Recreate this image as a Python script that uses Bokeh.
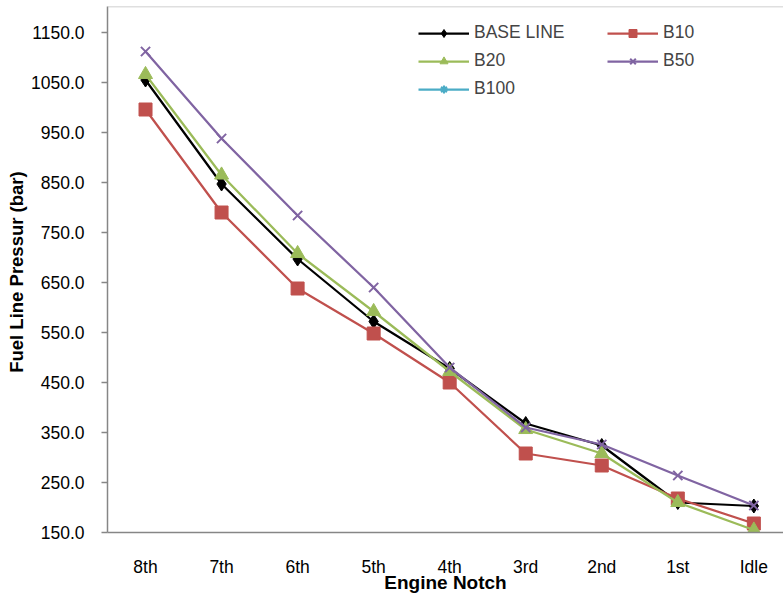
from bokeh.plotting import figure
from bokeh.models import Range1d, FixedTicker, NumeralTickFormatter, Legend, LegendItem, Span
from bokeh.embed import file_html
from bokeh.resources import INLINE

notches = ["8th", "7th", "6th", "5th", "4th", "3rd", "2nd", "1st", "Idle"]
base_line = [1055, 847, 697, 572, 478, 368, 324, 210, 203]
b10 = [996, 790, 638, 548, 450, 308, 284, 218, 168]
b20 = [1066, 865, 708, 592, 472, 356, 308, 210, 155]
b50 = [1112, 938, 784, 640, 480, 360, 326, 264, 204]
b100 = [None, None, None, None, None, None, None, None, None]  # no values plotted
y_ticks = [150, 250, 350, 450, 550, 650, 750, 850, 950, 1050, 1150]

xs = list(range(len(notches)))
Y_TOP = 1202

p = figure(width=783, height=599, output_backend="svg", toolbar_location=None,
           x_range=Range1d(-0.5, 8.39), y_range=Range1d(150, Y_TOP),
           min_border_left=107, min_border_bottom=67, min_border_top=6, min_border_right=0)
p.outline_line_color = None
p.xgrid.visible = False
p.ygrid.visible = False
p.background_fill_color = "white"
p.border_fill_color = "white"
p.add_layout(Span(location=Y_TOP, dimension="width", line_color="#BFBFBF", line_width=1.5))

font = "Liberation Sans"
for ax in (p.xaxis[0], p.yaxis[0]):
    ax.axis_line_color = "#868686"
    ax.axis_line_width = 1.5
    ax.major_tick_line_color = "#868686"
    ax.major_tick_line_width = 1.5
    ax.minor_tick_line_color = None
    ax.major_label_text_font = font
    ax.major_label_text_font_size = "17.5px"
    ax.major_label_text_color = "black"
    ax.axis_label_text_font = font
    ax.axis_label_text_font_style = "bold"
    ax.axis_label_text_color = "black"

p.xaxis.ticker = FixedTicker(ticks=xs)
p.xaxis.major_label_overrides = {i: n for i, n in enumerate(notches)}
p.xaxis.major_tick_out = 0
p.xaxis.major_tick_in = 0
p.xaxis.major_label_standoff = 24
p.xaxis.axis_label = "Engine Notch"
p.xaxis.axis_label_text_font_size = "19px"
p.xaxis.axis_label_standoff = -8

p.yaxis.ticker = FixedTicker(ticks=y_ticks)
p.yaxis.formatter = NumeralTickFormatter(format="0.0")
p.yaxis.major_tick_out = 6
p.yaxis.major_tick_in = 0
p.yaxis.major_label_standoff = 17
p.yaxis.axis_label = "Fuel Line Pressur  (bar)"
p.yaxis.axis_label_text_font_size = "18.5px"
p.yaxis.axis_label_standoff = 1

renderers = {}
specs = [
    ("BASE LINE", base_line, "black", "diamond", 14),
    ("B10", b10, "#C0504D", "square", 13),
    ("B20", b20, "#9BBB59", "triangle", 14),
    ("B50", b50, "#8064A2", "x", 13),
    ("B100", b100, "#4BACC6", "asterisk", 11),
]
for name, vals, color, marker, size in specs:
    vv = [float("nan") if v is None else v for v in vals]
    r1 = p.line(xs, vv, line_color=color, line_width=2.25)
    if marker in ("x", "asterisk"):
        r2 = p.scatter(xs, vv, marker=marker, size=size, line_color=color, line_width=2)
    else:
        r2 = p.scatter(xs, vv, marker=marker, size=size, fill_color=color, line_color=color)
    renderers[name] = [r1, r2]

order = ["BASE LINE", "B20", "B100", "B10", "B50"]
items = [LegendItem(label=n, renderers=renderers[n]) for n in order]

legend = Legend(items=items, ncols=2, location=(311, 433))
legend.border_line_color = None
legend.background_fill_alpha = 0
legend.label_text_font = font
legend.label_text_font_size = "17.5px"
legend.glyph_width = 51
legend.glyph_height = 20
legend.spacing = 7
legend.label_standoff = 5
legend.label_width = 126
legend.padding = 0
legend.margin = 0
p.add_layout(legend, "center")

open("out.html", "w").write(file_html(p, INLINE))
